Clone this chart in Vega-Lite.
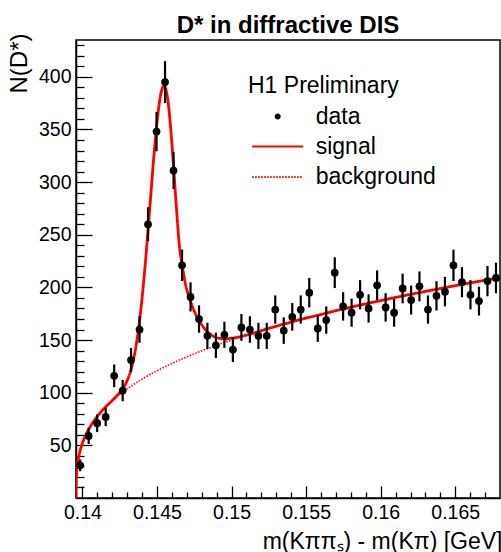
{
  "$schema": "https://vega.github.io/schema/vega-lite/v6.json",
  "width": 424,
  "height": 458,
  "autosize": {"type": "none"},
  "padding": {"left": 76, "top": 40, "right": 1, "bottom": 54},
  "background": "white",
  "title": {"text": "D* in diffractive DIS", "font": "Liberation Sans", "fontSize": 24, "fontWeight": "bold", "color": "black", "anchor": "middle", "offset": -5},
  "config": {
    "font": "Liberation Sans",
    "view": {"stroke": "black", "strokeWidth": 1.5},
    "axis": {"grid": false, "domainColor": "black", "domainWidth": 1.5, "tickColor": "black", "tickWidth": 1.3, "labelColor": "black", "labelFont": "Liberation Sans", "titleFont": "Liberation Sans", "titleColor": "black", "titleFontWeight": "normal", "labelFlush": false, "labelOverlap": false},
    "legend": {"titleFont": "Liberation Sans", "labelFont": "Liberation Sans", "titleColor": "black", "labelColor": "black", "titleFontWeight": "normal", "titleFontSize": 23, "labelFontSize": 23, "labelLimit": 400, "titleLimit": 400, "padding": 0}
  },
  "datasets": {
    "pts": [
      {"m": 0.13985, "n": 31, "err": 5.6},
      {"m": 0.14042, "n": 59, "err": 7.7},
      {"m": 0.14099, "n": 71, "err": 8.4},
      {"m": 0.14156, "n": 77, "err": 8.8},
      {"m": 0.14213, "n": 116, "err": 10.8},
      {"m": 0.14270, "n": 102, "err": 10.1},
      {"m": 0.14326, "n": 131, "err": 11.4},
      {"m": 0.14383, "n": 160, "err": 12.6},
      {"m": 0.14440, "n": 260, "err": 16.1},
      {"m": 0.14497, "n": 348, "err": 18.7},
      {"m": 0.14554, "n": 395, "err": 19.9},
      {"m": 0.14611, "n": 311, "err": 17.6},
      {"m": 0.14668, "n": 221, "err": 14.9},
      {"m": 0.14725, "n": 191, "err": 13.8},
      {"m": 0.14782, "n": 170, "err": 13.0},
      {"m": 0.14838, "n": 154, "err": 12.4},
      {"m": 0.14895, "n": 145, "err": 12.0},
      {"m": 0.14952, "n": 155, "err": 12.4},
      {"m": 0.15009, "n": 141, "err": 11.9},
      {"m": 0.15066, "n": 162, "err": 12.7},
      {"m": 0.15123, "n": 160, "err": 12.6},
      {"m": 0.15180, "n": 154, "err": 12.4},
      {"m": 0.15236, "n": 154, "err": 12.4},
      {"m": 0.15293, "n": 179, "err": 13.4},
      {"m": 0.15350, "n": 159, "err": 12.6},
      {"m": 0.15407, "n": 172, "err": 13.1},
      {"m": 0.15464, "n": 179, "err": 13.4},
      {"m": 0.15521, "n": 195, "err": 14.0},
      {"m": 0.15578, "n": 161, "err": 12.7},
      {"m": 0.15635, "n": 169, "err": 13.0},
      {"m": 0.15692, "n": 214, "err": 14.6},
      {"m": 0.15748, "n": 182, "err": 13.5},
      {"m": 0.15805, "n": 176, "err": 13.3},
      {"m": 0.15862, "n": 193, "err": 13.9},
      {"m": 0.15919, "n": 180, "err": 13.4},
      {"m": 0.15976, "n": 202, "err": 14.2},
      {"m": 0.16033, "n": 181, "err": 13.5},
      {"m": 0.16090, "n": 176, "err": 13.3},
      {"m": 0.16147, "n": 199, "err": 14.1},
      {"m": 0.16204, "n": 188, "err": 13.7},
      {"m": 0.16260, "n": 201, "err": 14.2},
      {"m": 0.16317, "n": 179, "err": 13.4},
      {"m": 0.16374, "n": 192, "err": 13.9},
      {"m": 0.16431, "n": 196, "err": 14.0},
      {"m": 0.16488, "n": 221, "err": 14.9},
      {"m": 0.16545, "n": 205, "err": 14.3},
      {"m": 0.16602, "n": 193, "err": 13.9},
      {"m": 0.16659, "n": 187, "err": 13.7},
      {"m": 0.16716, "n": 206, "err": 14.4},
      {"m": 0.16773, "n": 209, "err": 14.5}
    ],
    "bg": [
      {"m": 0.13957, "n": 0},
      {"m": 0.13958, "n": 14.9},
      {"m": 0.13960, "n": 21.5},
      {"m": 0.13963, "n": 27},
      {"m": 0.13967, "n": 32.1},
      {"m": 0.13975, "n": 39},
      {"m": 0.13985, "n": 45.1},
      {"m": 0.14000, "n": 52.0},
      {"m": 0.14020, "n": 59.1},
      {"m": 0.14050, "n": 67.2},
      {"m": 0.14090, "n": 75.7},
      {"m": 0.14140, "n": 84.2},
      {"m": 0.14200, "n": 92.5},
      {"m": 0.14260, "n": 99.5},
      {"m": 0.14300, "n": 103.7},
      {"m": 0.14340, "n": 107.6},
      {"m": 0.14380, "n": 111.2},
      {"m": 0.14430, "n": 115.4},
      {"m": 0.14480, "n": 119.3},
      {"m": 0.14530, "n": 123.0},
      {"m": 0.14590, "n": 127.1},
      {"m": 0.14650, "n": 131.0},
      {"m": 0.14720, "n": 135.2},
      {"m": 0.14800, "n": 139.8},
      {"m": 0.14900, "n": 145.1},
      {"m": 0.15000, "n": 150.0},
      {"m": 0.15120, "n": 155.5},
      {"m": 0.15250, "n": 161.1},
      {"m": 0.15400, "n": 167.1},
      {"m": 0.15550, "n": 172.6},
      {"m": 0.15700, "n": 177.9},
      {"m": 0.15850, "n": 182.8},
      {"m": 0.16000, "n": 187.5},
      {"m": 0.16150, "n": 192.0},
      {"m": 0.16300, "n": 196.2},
      {"m": 0.16450, "n": 200.3},
      {"m": 0.16600, "n": 204.3},
      {"m": 0.16800, "n": 209.2}
    ],
    "sig": [
      {"m": 0.13957, "n": 0},
      {"m": 0.13958, "n": 14.9},
      {"m": 0.13960, "n": 21.5},
      {"m": 0.13963, "n": 27},
      {"m": 0.13967, "n": 32.1},
      {"m": 0.13975, "n": 39},
      {"m": 0.13985, "n": 45.1},
      {"m": 0.14000, "n": 52.0},
      {"m": 0.14020, "n": 59.1},
      {"m": 0.14050, "n": 67.2},
      {"m": 0.14090, "n": 75.7},
      {"m": 0.14140, "n": 84.2},
      {"m": 0.14200, "n": 92.6},
      {"m": 0.14230, "n": 97},
      {"m": 0.14260, "n": 101.8},
      {"m": 0.14300, "n": 111.5},
      {"m": 0.14330, "n": 124.2},
      {"m": 0.14360, "n": 144.8},
      {"m": 0.14390, "n": 176.5},
      {"m": 0.14420, "n": 220},
      {"m": 0.14450, "n": 272.4},
      {"m": 0.14480, "n": 325.9},
      {"m": 0.14510, "n": 369.1},
      {"m": 0.14530, "n": 386.5},
      {"m": 0.14547, "n": 391.3},
      {"m": 0.14570, "n": 380.7},
      {"m": 0.14590, "n": 354.4},
      {"m": 0.14610, "n": 317.4},
      {"m": 0.14630, "n": 276.3},
      {"m": 0.14650, "n": 240},
      {"m": 0.14670, "n": 220},
      {"m": 0.14690, "n": 204},
      {"m": 0.14720, "n": 189},
      {"m": 0.14750, "n": 177.5},
      {"m": 0.14780, "n": 169},
      {"m": 0.14810, "n": 162.5},
      {"m": 0.14840, "n": 157.5},
      {"m": 0.14880, "n": 153.5},
      {"m": 0.14920, "n": 151.6},
      {"m": 0.14960, "n": 151.2},
      {"m": 0.15000, "n": 151.8},
      {"m": 0.15050, "n": 153.0},
      {"m": 0.15100, "n": 154.7},
      {"m": 0.15250, "n": 161.1},
      {"m": 0.15400, "n": 167.1},
      {"m": 0.15550, "n": 172.6},
      {"m": 0.15700, "n": 177.9},
      {"m": 0.15850, "n": 182.8},
      {"m": 0.16000, "n": 187.5},
      {"m": 0.16150, "n": 192.0},
      {"m": 0.16300, "n": 196.2},
      {"m": 0.16450, "n": 200.3},
      {"m": 0.16600, "n": 204.3},
      {"m": 0.16800, "n": 209.2}
    ]
  },
  "layer": [
    {
      "data": {"name": "bg"},
      "mark": {"type": "line", "color": "red", "strokeWidth": 1.6, "interpolate": "monotone", "clip": true},
      "encoding": {
        "x": {"field": "m", "type": "quantitative", "scale": {"domain": [0.13957, 0.168], "nice": false, "zero": false},
          "axis": {"orient": "bottom", "values": [0.141,0.142,0.143,0.144,0.146,0.147,0.148,0.149,0.151,0.152,0.153,0.154,0.156,0.157,0.158,0.159,0.161,0.162,0.163,0.164,0.166,0.167], "tickSize": -6, "labels": false, "domain": false, "title": null}},
        "y": {"field": "n", "type": "quantitative", "scale": {"domain": [0, 435], "nice": false},
          "axis": {"orient": "left", "values": [10,20,30,40,60,70,80,90,110,120,130,140,160,170,180,190,210,220,230,240,260,270,280,290,310,320,330,340,360,370,380,390,410,420,430], "tickSize": -8, "labels": false, "domain": false, "title": null}},
        "strokeDash": {
          "datum": "background",
          "scale": {"domain": ["signal", "background"], "range": [[1, 0], [1.5, 1.5]]},
          "legend": {
            "title": null,
            "orient": "none",
            "legendX": 172,
            "legendY": 95,
            "labelOffset": 26.5,
            "symbolSize": 400,
            "symbolOffset": 18.2,
            "symbolType": "M-2.55,0L2.55,0",
            "symbolStrokeColor": "red",
            "symbolStrokeWidth": 2.2,
            "rowPadding": 6.5
          }
        }
      }
    },
    {
      "data": {"name": "sig"},
      "mark": {"type": "line", "color": "red", "strokeWidth": 2.8, "interpolate": "monotone", "clip": true},
      "encoding": {
        "x": {"field": "m", "type": "quantitative", "axis": null},
        "y": {"field": "n", "type": "quantitative", "axis": null},
        "strokeDash": {"datum": "signal"}
      }
    },
    {
      "data": {"name": "pts"},
      "mark": {"type": "errorbar", "color": "black", "rule": {"strokeWidth": 2.2}},
      "encoding": {
        "x": {"field": "m", "type": "quantitative",
          "axis": {"orient": "bottom", "values": [0.14, 0.145, 0.15, 0.155, 0.16, 0.165], "format": ".3~f", "tickSize": -12, "labelPadding": 17.6, "labelFontSize": 19.5,
            "title": "m(Kππₛ) - m(Kπ) [GeV]", "titleFontSize": 23, "titleAlign": "right", "titleAnchor": "end", "titleX": 426, "titleY": 50, "titleBaseline": "alphabetic"}},
        "y": {"field": "n", "type": "quantitative",
          "axis": {"orient": "left", "values": [50, 100, 150, 200, 250, 300, 350, 400], "format": "d", "tickSize": -16, "labelPadding": 21, "labelFontSize": 19.5,
            "title": "N(D*)", "titleFontSize": 24, "titleAngle": 270, "titleAlign": "right", "titleBaseline": "middle", "titleX": -57, "titleY": -7}},
        "yError": {"field": "err"}
      }
    },
    {
      "data": {"name": "pts"},
      "mark": {"type": "point", "filled": true, "color": "black", "size": 60},
      "encoding": {
        "x": {"field": "m", "type": "quantitative", "axis": null},
        "y": {"field": "n", "type": "quantitative", "axis": null},
        "opacity": {
          "datum": "data",
          "scale": {"domain": ["data"], "range": [1]},
          "legend": {
            "title": "H1 Preliminary",
            "orient": "none",
            "legendX": 172,
            "legendY": 35,
            "titlePadding": 7,
            "labelOffset": 26.5,
            "symbolSize": 400,
            "symbolOffset": 18.2,
            "symbolType": "M-0.3,0A0.3,0.3,0,1,1,0.3,0A0.3,0.3,0,1,1,-0.3,0ZM0,-1.15L0,1.15",
            "symbolFillColor": "black",
            "symbolStrokeColor": "black",
            "symbolStrokeWidth": 2.2,
            "symbolOpacity": 1
          }
        }
      }
    }
  ],
  "resolve": {"axis": {"x": "independent", "y": "independent"}}
}
